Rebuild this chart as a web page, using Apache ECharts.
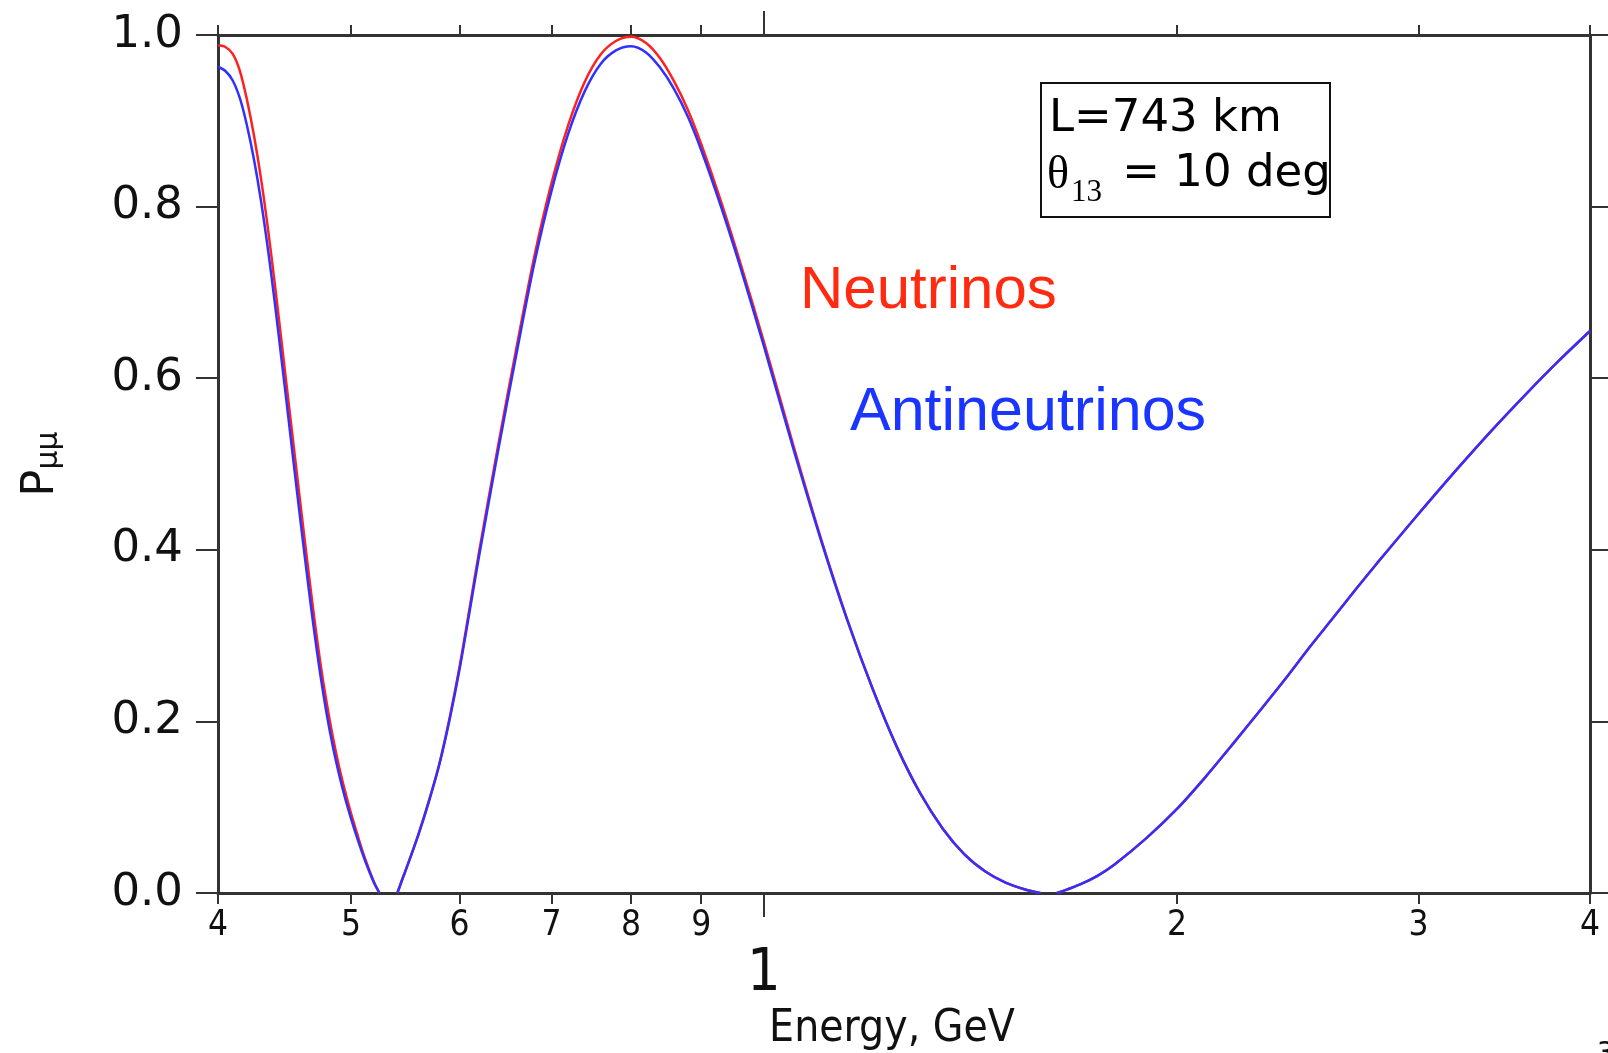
<!DOCTYPE html>
<html>
<head>
<meta charset="utf-8">
<script src="https://cdn.jsdelivr.net/npm/echarts@6/dist/echarts.min.js"></script>
<style>
html,body{margin:0;padding:0;background:#fff;}
#chart{width:1608px;height:1053px;}
</style>
</head>
<body>
<div id="chart"></div>
<script>
// Energy (GeV) sample points
const energyGeV = [0.400,0.405,0.410,0.415,0.420,0.425,0.430,0.435,0.440,0.445,0.450,0.455,0.460,0.465,0.470,0.475,0.480,0.485,0.490,0.495,0.500,0.505,0.510,0.515,0.520,0.5245,0.532,0.5405,0.545,0.550,0.560,0.570,0.580,0.590,0.600,0.610,0.620,0.640,0.660,0.680,0.700,0.720,0.740,0.760,0.780,0.800,0.820,0.840,0.860,0.880,0.900,0.930,0.960,1.000,1.050,1.100,1.150,1.200,1.250,1.300,1.350,1.400,1.450,1.500,1.550,1.590,1.612,1.635,1.650,1.700,1.750,1.800,1.900,2.000,2.100,2.200,2.300,2.400,2.500,2.600,2.700,2.800,2.900,3.000,3.200,3.400,3.600,3.800,4.000];

// P_mumu, neutrinos (red)
const pNeutrino = [0.988,0.986,0.978,0.958,0.924,0.882,0.832,0.774,0.710,0.643,0.576,0.510,0.445,0.382,0.322,0.268,0.222,0.182,0.148,0.119,0.093,0.070,0.048,0.029,0.012,0.000,null,0.000,0.016,0.033,0.069,0.108,0.151,0.204,0.264,0.331,0.398,0.521,0.635,0.741,0.827,0.895,0.945,0.977,0.993,0.998,0.991,0.973,0.946,0.913,0.873,0.807,0.737,0.642,0.523,0.414,0.319,0.238,0.170,0.116,0.075,0.045,0.025,0.012,0.004,0.000,null,0.000,0.002,0.010,0.020,0.033,0.064,0.098,0.136,0.175,0.213,0.250,0.287,0.321,0.354,0.385,0.414,0.442,0.494,0.541,0.583,0.621,0.655];

// P_mumu, antineutrinos (blue)
const pAntineutrino = [0.963,0.958,0.947,0.926,0.894,0.854,0.806,0.750,0.688,0.622,0.556,0.490,0.426,0.364,0.306,0.254,0.209,0.171,0.139,0.111,0.087,0.065,0.045,0.027,0.011,0.000,null,0.000,0.016,0.033,0.068,0.107,0.150,0.202,0.261,0.327,0.393,0.515,0.628,0.733,0.818,0.885,0.934,0.966,0.982,0.987,0.980,0.962,0.937,0.905,0.866,0.801,0.732,0.637,0.519,0.412,0.318,0.238,0.170,0.116,0.075,0.045,0.025,0.012,0.004,0.000,null,0.000,0.002,0.010,0.020,0.033,0.064,0.098,0.136,0.175,0.213,0.250,0.287,0.321,0.354,0.385,0.414,0.442,0.494,0.541,0.583,0.621,0.655];

// Tick values
const minorTicks = [0.4,0.5,0.6,0.7,0.8,0.9,2,3,4];
const majorTicks = [1];

const FONT = '"DejaVu Sans", sans-serif';
const NARROW = '"DejaVu Sans Condensed", "DejaVu Sans", sans-serif';
const AXIS_COLOR = '#333';

function pairs(p) {
  return energyGeV.map((e, i) => [e, p[i] === null ? '-' : p[i]]);
}

const chart = echarts.init(document.getElementById('chart'), null, {renderer: 'canvas'});

const baseLog = {type: 'log', logBase: 10, min: 0.4, max: 4, gridIndex: 0, splitLine: {show: false}, minorTick: {show: false}, minorSplitLine: {show: false}};

const option = {
  backgroundColor: '#ffffff',
  animation: false,
  grid: {left: 218, right: 18, top: 35, bottom: 160, containLabel: false, outerBoundsMode: 'none'},
  xAxis: [
    Object.assign({}, baseLog, {
      position: 'bottom',
      name: 'Energy, GeV',
      nameLocation: 'middle',
      nameGap: 115,
      nameTextStyle: {fontSize: 44, fontFamily: NARROW, color: '#111', padding: [0, 24, 0, 0]},
      axisLine: {show: true, onZero: false, lineStyle: {color: AXIS_COLOR, width: 3}},
      axisTick: {show: true, inside: false, length: 11, customValues: minorTicks, lineStyle: {color: AXIS_COLOR, width: 2}},
      axisLabel: {show: true, customValues: minorTicks, margin: 15, fontSize: 35, fontFamily: NARROW, color: '#111',
        formatter: v => (v < 1 ? String(Math.round(v * 10)) : String(Math.round(v)))}
    }),
    Object.assign({}, baseLog, {
      position: 'bottom',
      axisLine: {show: false, onZero: false},
      axisTick: {show: true, inside: false, length: 24, customValues: majorTicks, lineStyle: {color: AXIS_COLOR, width: 2}},
      axisLabel: {show: true, customValues: majorTicks, margin: 52, fontSize: 59, fontFamily: NARROW, color: '#111',
        formatter: v => String(Math.round(v))}
    }),
    Object.assign({}, baseLog, {
      position: 'top',
      axisLine: {show: true, onZero: false, lineStyle: {color: AXIS_COLOR, width: 3}},
      axisTick: {show: true, inside: false, length: 10, customValues: minorTicks, lineStyle: {color: AXIS_COLOR, width: 2}},
      axisLabel: {show: false}
    }),
    Object.assign({}, baseLog, {
      position: 'top',
      axisLine: {show: false, onZero: false},
      axisTick: {show: true, inside: false, length: 24, customValues: majorTicks, lineStyle: {color: AXIS_COLOR, width: 2}},
      axisLabel: {show: false}
    })
  ],
  yAxis: [
    {
      type: 'value', min: 0, max: 1, interval: 0.2, position: 'left', gridIndex: 0,
      name: '{p|P}{s|μμ}',
      nameLocation: 'middle',
      nameRotate: 90,
      nameGap: 154,
      nameTextStyle: {
        rich: {
          p: {fontSize: 45, fontFamily: FONT, color: '#111', lineHeight: 45, verticalAlign: 'bottom'},
          s: {fontSize: 30, fontFamily: FONT, color: '#111', lineHeight: 6, verticalAlign: 'bottom'}
        }
      },
      splitLine: {show: false},
      axisLine: {show: true, onZero: false, lineStyle: {color: AXIS_COLOR, width: 3}},
      axisTick: {show: true, inside: false, length: 22, lineStyle: {color: AXIS_COLOR, width: 2}},
      axisLabel: {show: true, margin: 35, fontSize: 45, fontFamily: FONT, color: '#111', formatter: v => v.toFixed(1)}
    },
    {
      type: 'value', min: 0, max: 1, interval: 0.2, position: 'right', gridIndex: 0,
      splitLine: {show: false},
      axisLine: {show: true, onZero: false, lineStyle: {color: AXIS_COLOR, width: 3}},
      axisTick: {show: true, inside: false, length: 18, lineStyle: {color: AXIS_COLOR, width: 2}},
      axisLabel: {show: false}
    }
  ],
  series: [
    {
      name: 'Neutrinos', type: 'line', xAxisIndex: 0, yAxisIndex: 0,
      data: pairs(pNeutrino), showSymbol: false, smooth: 0.3, connectNulls: false,
      lineStyle: {color: '#ff2020', width: 2.5}, itemStyle: {color: '#ff2020'}, z: 3
    },
    {
      name: 'Antineutrinos', type: 'line', xAxisIndex: 0, yAxisIndex: 0,
      data: pairs(pAntineutrino), showSymbol: false, smooth: 0.3, connectNulls: false,
      lineStyle: {color: '#3030ff', width: 2.5}, itemStyle: {color: '#3030ff'}, z: 4
    }
  ],
  graphic: [
    {type: 'rect', z: 10, shape: {x: 1041, y: 83, width: 289, height: 134}, style: {fill: '#fff', stroke: '#111', lineWidth: 2}},
    {type: 'text', z: 11, x: 1049, y: 119, style: {text: 'L=743 km', fontSize: 45, fontFamily: FONT, fill: '#000', verticalAlign: 'middle'}},
    {type: 'text', z: 11, x: 1047, y: 176, style: {text: 'θ', fontSize: 46, fontFamily: '"Liberation Serif", serif', fill: '#000', verticalAlign: 'middle'}},
    {type: 'text', z: 11, x: 1071, y: 193, style: {text: '13', fontSize: 31, fontFamily: '"Liberation Serif", serif', fill: '#000', verticalAlign: 'middle'}},
    {type: 'text', z: 11, x: 1108, y: 174, style: {text: ' = 10 deg', fontSize: 45, fontFamily: FONT, fill: '#000', verticalAlign: 'middle'}},
    {type: 'text', z: 11, x: 800, y: 291, style: {text: 'Neutrinos', fontSize: 60, fontFamily: '"Liberation Sans", Arial, sans-serif', fill: '#ff2a10', verticalAlign: 'middle'}},
    {type: 'text', z: 11, x: 850, y: 413, style: {text: 'Antineutrinos', fontSize: 61, fontFamily: '"Liberation Sans", Arial, sans-serif', fill: '#1a35ff', verticalAlign: 'middle'}},
    {type: 'text', z: 11, x: 1597, y: 1040, style: {text: '3', fontSize: 30, fontFamily: NARROW, fill: '#111', verticalAlign: 'top'}}
  ]
};

chart.setOption(option);
</script>
</body>
</html>
